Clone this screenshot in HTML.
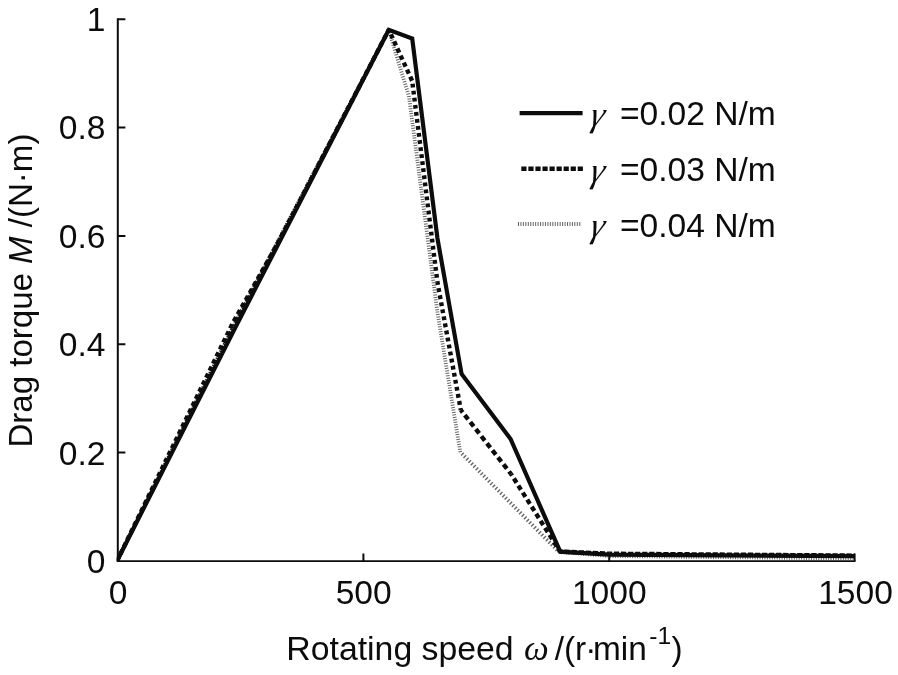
<!DOCTYPE html>
<html><head><meta charset="utf-8"><title>Drag torque vs rotating speed</title>
<style>
html,body{margin:0;padding:0;background:#fff;}
svg{display:block;}
text{font-family:"Liberation Sans",sans-serif;font-size:33.6px;fill:#0c0c0c;}
.it{font-style:italic;}
.sym{font-family:"Liberation Serif",serif;font-style:italic;}
</style></head><body>
<svg width="898" height="675" viewBox="0 0 898 675">
<rect width="898" height="675" fill="#fff"/>
<!-- axes -->
<g stroke="#0c0c0c" stroke-width="2" fill="none">
<path d="M117.8 18.35V562"/>
<path d="M116.8 561.05H855.5" stroke-width="1.8"/>
<path d="M117.8 19.35H125.4M117.8 127.4H125.4M117.8 235.9H125.4M117.8 344.2H125.4M117.8 452.6H125.4"/>
<path d="M363.4 561V553.4M609.2 561V553.4M854.6 561V553.4"/>
</g>
<!-- curves -->
<clipPath id="pc"><rect x="116.8" y="0" width="760" height="562"/></clipPath>
<g fill="none" clip-path="url(#pc)">
<path d="M117.00 561.00L235.20 323.00" stroke="#222" stroke-width="3.8" stroke-dasharray="1.563 1.117" stroke-dashoffset="0.000"/>
<path d="M235.20 323.00L388.80 29.80" stroke="#222" stroke-width="3.8" stroke-dasharray="1.580 1.129" stroke-dashoffset="0.452"/>
<path d="M388.80 29.80L399.60 66.00" stroke="#666" stroke-width="3.8" stroke-dasharray="1.044 1.513" stroke-dashoffset="0.000"/>
<path d="M399.60 66.00L408.90 96.00" stroke="#666" stroke-width="3.8" stroke-dasharray="1.047 1.518" stroke-dashoffset="1.989"/>
<path d="M408.90 96.00L437.40 312.00" stroke="#666" stroke-width="3.8" stroke-dasharray="1.009 1.463" stroke-dashoffset="0.050"/>
<path d="M437.40 312.00L460.30 452.00" stroke="#666" stroke-width="3.8" stroke-dasharray="1.013 1.469" stroke-dashoffset="0.456"/>
<path d="M460.30 452.00L559.00 552.00" stroke="#666" stroke-width="3.8" stroke-dasharray="1.405 2.037" stroke-dashoffset="1.124"/>
<path d="M559.00 552.00L609.30 556.00" stroke="#666" stroke-width="3.8" stroke-dasharray="1.003 1.455" stroke-dashoffset="0.351"/>
<path d="M609.30 556.00L855.00 558.50" stroke="#666" stroke-width="3.8" stroke-dasharray="1.000 1.450" stroke-dashoffset="1.650"/>
<path d="M117.00 561.00L232.80 323.00" stroke="#0c0c0c" stroke-width="4.4" stroke-dasharray="4.518 3.322" stroke-dashoffset="0.000"/>
<path d="M232.80 323.00L276.80 245.00" stroke="#0c0c0c" stroke-width="4.4" stroke-dasharray="4.737 3.358" stroke-dashoffset="6.143"/>
<path d="M276.80 245.00L388.80 29.80" stroke="#0c0c0c" stroke-width="4.4" stroke-dasharray="4.612 3.336" stroke-dashoffset="6.538"/>
<path d="M388.80 29.80L412.20 81.00" stroke="#0c0c0c" stroke-width="4.4" stroke-dasharray="4.440 3.312" stroke-dashoffset="2.694"/>
<path d="M412.20 81.00L437.40 282.00" stroke="#0c0c0c" stroke-width="4.4" stroke-dasharray="3.753 3.352" stroke-dashoffset="4.334"/>
<path d="M437.40 282.00L460.80 410.00" stroke="#0c0c0c" stroke-width="4.4" stroke-dasharray="3.845 3.322" stroke-dashoffset="0.864"/>
<path d="M460.80 410.00L511.00 474.00" stroke="#0c0c0c" stroke-width="4.4" stroke-dasharray="5.442 3.518" stroke-dashoffset="2.478"/>
<path d="M511.00 474.00L560.00 551.50" stroke="#0c0c0c" stroke-width="4.4" stroke-dasharray="4.942 3.398" stroke-dashoffset="2.958"/>
<path d="M560.00 551.50L609.30 553.70" stroke="#0c0c0c" stroke-width="4.4" stroke-dasharray="5.176 1.881" stroke-dashoffset="2.452"/>
<path d="M609.30 553.70L855.00 555.60" stroke="#0c0c0c" stroke-width="4.4" stroke-dasharray="5.209 1.841" stroke-dashoffset="2.400"/>
<polyline stroke="#0c0c0c" stroke-width="4.2" stroke-linejoin="miter" points="117,561 237.6,323 388.8,29.8 412.2,38.5 437.4,238 461.6,374 510.6,439 560.2,551.7 609.3,554.6 855,556.2"/>
</g>
<!-- legend -->
<g fill="none">
<path d="M519.6 113.2H582.6" stroke="#0c0c0c" stroke-width="4.2"/>
<path d="M521.30 168.70L583.00 168.70" stroke="#0c0c0c" stroke-width="4.4" stroke-dasharray="5.217 1.833" stroke-dashoffset="0.000"/>
<path d="M518.00 224.00L581.80 224.00" stroke="#666" stroke-width="3.8" stroke-dasharray="1.000 1.450" stroke-dashoffset="0.000"/>
</g>
<text transform="translate(588.8,125.8) skewX(-12)" class="sym" style="font-size:35px">γ</text>
<text x="620" y="125" style="font-size:33.6px">=0.02 N/m</text>
<text transform="translate(588.8,181.5) skewX(-12)" class="sym" style="font-size:35px">γ</text>
<text x="620" y="180.7" style="font-size:33.6px">=0.03 N/m</text>
<text transform="translate(588.8,237.3) skewX(-12)" class="sym" style="font-size:35px">γ</text>
<text x="620" y="236.5" style="font-size:33.6px">=0.04 N/m</text>
<!-- y ticks -->
<g text-anchor="end">
<text x="105.5" y="31.2">1</text>
<text x="105.5" y="139.4">0.8</text>
<text x="105.5" y="247.9">0.6</text>
<text x="105.5" y="356.2">0.4</text>
<text x="105.5" y="464.6">0.2</text>
<text x="105.5" y="573.4">0</text>
</g>
<g text-anchor="middle">
<text x="118" y="604">0</text>
<text x="363.7" y="604">500</text>
<text x="609.3" y="604">1000</text>
<text x="855.5" y="604">1500</text>
</g>
<g style="font-size:33px">
<text x="286.3" y="660.3" style="font-size:33.8px">Rotating speed</text>
<text x="524" y="660.3" class="sym" style="font-size:35px">ω</text>
<text x="554.7" y="660.3" style="font-size:33.4px">/(r</text>
<text x="590.8" y="660.3" style="font-size:33.4px" text-anchor="middle">·</text>
<text x="593" y="660.3" style="font-size:33.4px">min</text>
<text x="649.3" y="644.4" style="font-size:24.6px">-1</text>
<text x="671.5" y="660.3" style="font-size:33.4px">)</text>
</g>
<text transform="translate(32,447.6) rotate(-90)" style="font-size:33.05px">Drag torque <tspan class="it">M</tspan> /(N·m)</text>
</svg>
</body></html>
